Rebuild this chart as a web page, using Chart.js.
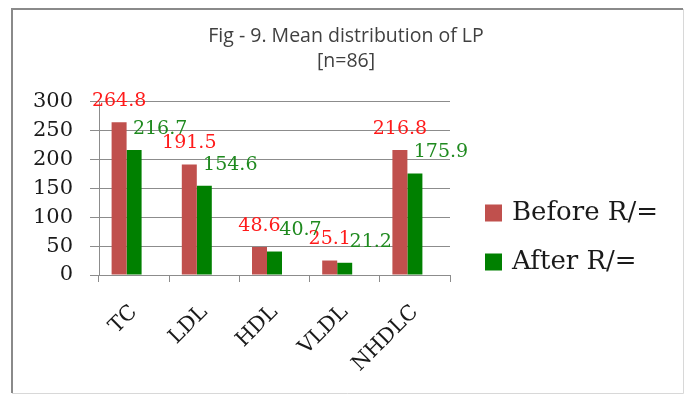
<!DOCTYPE html>
<html>
<head>
<meta charset="utf-8">
<script src="https://cdn.jsdelivr.net/npm/chart.js@4"></script>
<style>
  html, body { margin: 0; padding: 0; background: #fff; }
  #wrap { position: relative; width: 692px; height: 396px; }
</style>
</head>
<body>
<div id="wrap"><canvas id="c" width="692" height="396"></canvas></div>
<script>
const categories = ['TC', 'LDL', 'HDL', 'VLDL', 'NHDLC'];
const beforeValues = [264.8, 191.5, 48.6, 25.1, 216.8];
const afterValues = [216.7, 154.6, 40.7, 21.2, 175.9];
const yTicks = [0, 50, 100, 150, 200, 250, 300];
const seriesNames = ['Before R/=', 'After R/='];
const titleLines = ['Fig - 9. Mean distribution of LP', '[n=86]'];

const serif = "'DejaVu Serif', 'Liberation Serif', serif";

const framePlugin = {
  id: 'frame',
  beforeDraw(chart) {
    const ctx = chart.ctx;
    ctx.save();
    ctx.fillStyle = '#fff';
    ctx.fillRect(0, 0, chart.width, chart.height);
    ctx.lineWidth = 2;
    ctx.strokeStyle = '#8a8a8a';
    ctx.beginPath();
    ctx.moveTo(12, 393); ctx.lineTo(12, 9); ctx.lineTo(683, 9);
    ctx.stroke();
    ctx.strokeStyle = '#d8d8d8';
    ctx.lineWidth = 1;
    ctx.beginPath();
    ctx.moveTo(683.5, 9); ctx.lineTo(683.5, 393.5); ctx.lineTo(12, 393.5);
    ctx.stroke();
    ctx.restore();
  }
};

const valueLabelPlugin = {
  id: 'valueLabels',
  afterDatasetsDraw(chart) {
    const ctx = chart.ctx;
    ctx.save();
    ctx.textAlign = 'center';
    ctx.textBaseline = 'middle';
    chart.data.datasets.forEach((ds, di) => {
      if (!ds.labelStyle) return;
      const meta = chart.getDatasetMeta(di);
      const st = ds.labelStyle;
      ctx.font = st.font;
      ctx.fillStyle = st.color;
      meta.data.forEach((bar, i) => {
        ctx.fillText(String(ds.data[i]), bar.x + st.dx, bar.y + st.dy);
      });
    });
    ctx.restore();
  }
};

// legend drawn from the datasets' own labels and colours
const sideLegendPlugin = {
  id: 'sideLegend',
  afterDraw(chart, args, opts) {
    const ctx = chart.ctx;
    ctx.save();
    ctx.font = opts.font;
    ctx.textBaseline = 'middle';
    ctx.textAlign = 'left';
    let y = opts.top;
    chart.data.datasets.forEach((ds) => {
      if (!ds.label) return;
      ctx.fillStyle = ds.backgroundColor;
      ctx.fillRect(opts.left, y - opts.box / 2, opts.box, opts.box);
      ctx.fillStyle = opts.color;
      ctx.fillText(ds.label, opts.left + opts.box + opts.gap, y);
      y += opts.step;
    });
    ctx.restore();
  }
};

new Chart(document.getElementById('c'), {
  type: 'bar',
  data: {
    labels: categories,
    datasets: [
      { label: seriesNames[0], data: beforeValues, backgroundColor: '#c0504d',
        labelStyle: { font: "19px " + serif, color: '#ff1a1a', dx: 0, dy: -21 } },
      { label: seriesNames[1], data: afterValues, backgroundColor: '#008000',
        labelStyle: { font: "19px " + serif, color: '#1f8a1f', dx: 26, dy: -21 } },
      { label: '', data: [], backgroundColor: 'rgba(0,0,0,0)' }
    ]
  },
  plugins: [framePlugin, valueLabelPlugin, sideLegendPlugin],
  options: {
    responsive: false,
    animation: false,
    events: [],
    layout: { padding: { left: 0, right: 0, top: 0, bottom: 0 } },
    datasets: { bar: { barPercentage: 1.0, categoryPercentage: 0.641 } },
    plugins: {
      tooltip: { enabled: false },
      legend: { display: false },
      sideLegend: { left: 485, top: 213, step: 49, box: 17, gap: 10, font: "26px " + serif, color: '#1a1a1a' },
      title: {
        display: true,
        text: titleLines,
        color: '#404040',
        font: { family: "'Open Sans', sans-serif", size: 19.5, weight: 'normal', lineHeight: 1.28 },
        padding: { top: 24, bottom: 28 }
      }
    },
    scales: {
      x: {
        offset: true,
        grid: { display: true, offset: true, drawOnChartArea: false, drawTicks: true, tickLength: 7, color: '#8c8c8c' },
        border: { display: true, color: '#8c8c8c' },
        ticks: { color: '#1a1a1a', font: { family: serif, size: 21 }, minRotation: 45, maxRotation: 45, padding: 18, autoSkip: false },
        afterFit(s) { s.height = 121; }
      },
      y: {
        min: 0, max: 300,
        afterBuildTicks(s) { s.ticks = yTicks.map(v => ({ value: v })); },
        grid: { color: '#8c8c8c', tickLength: 9, drawTicks: true },
        border: { display: true, color: '#8c8c8c' },
        ticks: { color: '#1a1a1a', font: { family: serif, size: 21 }, padding: 17 },
        afterFit(s) { s.width = 99; }
      },
      legendSpace: {
        position: 'right',
        display: true,
        grid: { display: false, drawTicks: false },
        border: { display: false },
        ticks: { display: false },
        afterFit(s) { s.width = 242; }
      }
    }
  }
});
</script>
</body>
</html>
